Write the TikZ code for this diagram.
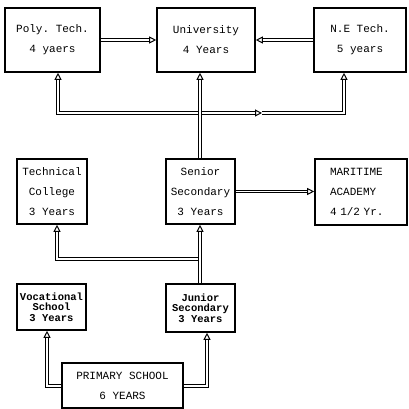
\documentclass[tikz,border=0pt]{standalone}
\usepackage{fontspec}
\setmonofont{Liberation Mono}
\usetikzlibrary{arrows.meta,positioning}
\tikzset{
    %Define standard arrow tip
    >={Triangle[open,length=7pt,width=7pt]},
    %Define style for boxes
    kasten/.style={
           rectangle,
           draw=black, line width=1.6pt,
           inner sep=2pt,
           font=\fontsize{11}{20}\ttfamily,
           align=center},
    dicht/.style={
           font=\fontsize{10.5}{10.5}\ttfamily\bfseries},
    % Define arrow style
    pfeil/.style={
           ->,
           double=white,
           double distance=1.6pt,
           line width=1pt},
}

\begin{document}
\begin{tikzpicture}[x=1pt, y=1pt]
 \useasboundingbox (0,0) rectangle (409,409);
 %nodes
    \node[kasten, minimum width=95pt, minimum height=64pt] (poly) at (52.5,369) {Poly. Tech.\\4 yaers};
    \node[kasten, minimum width=98pt, minimum height=64pt] (univ) at (206,369) {University\\4 Years};
    \node[kasten, minimum width=92pt, minimum height=64pt] (nle) at (360,369) {N.E Tech.\\5 years};
    \node[kasten, minimum width=70pt, minimum height=65pt] (tech) at (52,217.5) {Technical\\College\\3 Years};
    \node[kasten, minimum width=69pt, minimum height=65pt] (senior) at (200.5,217.5) {Senior\\Secondary\\3 Years};
    \node[kasten, minimum width=92pt, minimum height=66pt, align=left, text width=62pt] (marit) at (361,217) {MARITIME\\ACADEMY\\4 1/2 Yr.};
    \node[kasten, dicht, minimum width=69pt, minimum height=46pt] (voc) at (51.5,102) {Vocational\\School\\3 Years};
    \node[kasten, dicht, minimum width=69pt, minimum height=48pt] (junior) at (200.5,101) {Junior\\Secondary\\3 Years};
    \node[kasten, minimum width=121pt, minimum height=45pt] (primary) at (122.5,23.5) {PRIMARY SCHOOL\\6 YEARS};
 %branch points
    \coordinate (obenmitte) at (200,296);
    \coordinate (obenlinks) at (58,296);
    \coordinate (obenpfeil) at (262,296);
    \coordinate (obenrechts) at (344,296);
    \coordinate (untenmitte) at (200,150);
    \coordinate (untenlinks) at (57,150);
    \coordinate (primlinks) at (47,23);
    \coordinate (primrechts) at (207,23);
 %edges
    \draw[pfeil] (poly.east) -- (univ.west);
    \draw[pfeil] (nle.west) -- (univ.east);
    \draw[pfeil] (senior.east) -- (senior.east -| marit.west);
    \draw[pfeil] (obenmitte) -- (obenlinks) -- (obenlinks |- poly.south);
    \draw[pfeil] (obenmitte) -- (obenpfeil);
    \draw[pfeil] (obenpfeil) -- (obenrechts) -- (obenrechts |- nle.south);
    \draw[pfeil] (senior.north -| obenmitte) -- (obenmitte |- univ.south);
    \draw[pfeil] (untenmitte) -- (untenlinks) -- (untenlinks |- tech.south);
    \draw[pfeil] (junior.north -| untenmitte) -- (untenmitte |- senior.south);
    \draw[pfeil] (primary.west |- primlinks) -- (primlinks) -- (primlinks |- voc.south);
    \draw[pfeil] (primary.east |- primrechts) -- (primrechts) -- (primrechts |- junior.south);
\end{tikzpicture}
\end{document}
